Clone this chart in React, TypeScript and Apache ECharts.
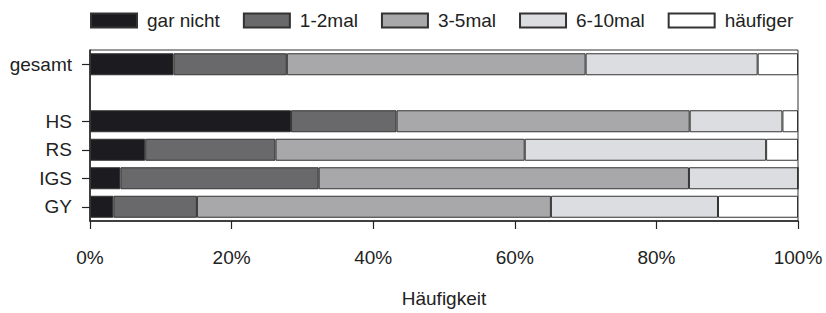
import React, { useEffect, useRef } from "react";
import * as echarts from "echarts";

const categories = ["gesamt", "", "HS", "RS", "IGS", "GY"];
const seriesNames = ["gar nicht", "1-2mal", "3-5mal", "6-10mal", "häufiger"];
const garNicht = [11.8, null, 28.4, 7.8, 4.3, 3.3];
const einZweimal = [16.0, null, 14.9, 18.4, 28.0, 11.8];
const dreiFuenfmal = [42.2, null, 41.4, 35.2, 52.3, 50.0];
const sechsZehnmal = [24.3, null, 13.1, 34.1, 15.4, 23.6];
const haeufiger = [5.7, null, 2.2, 4.5, 0, 11.3];
const xTicks = [0, 20, 40, 60, 80, 100];

const colors = ["#1c1b20", "#69696b", "#a8a8aa", "#dcdde0", "#ffffff"];
const font = "'Liberation Sans', Arial, sans-serif";

export default function App() {
  const ref = useRef<HTMLDivElement>(null);
  useEffect(() => {
    document.body.style.margin = "0";
    if (!ref.current) return;
    const chart = echarts.init(ref.current, undefined, { renderer: "svg" });
    const allData = [garNicht, einZweimal, dreiFuenfmal, sechsZehnmal, haeufiger];
    chart.setOption({
      animation: false,
      textStyle: { fontFamily: font },
      legend: {
        left: 85,
        top: 6,
        itemWidth: 46,
        itemHeight: 14,
        itemGap: 23,
        icon: "rect",
        data: seriesNames,
        textStyle: { fontSize: 19, color: "#222", fontFamily: font, padding: [0, 0, 0, 5] },
      },
      grid: {
        left: 90,
        right: 28,
        top: 50,
        bottom: 81,
        show: true,
        borderColor: "#333",
        borderWidth: 1,
        backgroundColor: "transparent",
      },
      xAxis: {
        type: "value",
        min: xTicks[0],
        max: xTicks[xTicks.length - 1],
        interval: 20,
        name: "Häufigkeit",
        nameLocation: "middle",
        nameGap: 68,
        nameTextStyle: { fontSize: 19, color: "#222", fontFamily: font },
        axisLine: { show: true, lineStyle: { color: "#222", width: 1.5 } },
        axisTick: { show: true, length: 8, lineStyle: { color: "#222", width: 1.2 } },
        axisLabel: { formatter: "{value}%", fontSize: 19, color: "#222", margin: 27, fontFamily: font },
        splitLine: { show: false },
      },
      yAxis: {
        type: "category",
        data: categories,
        inverse: true,
        axisLine: { show: true, lineStyle: { color: "#222", width: 1.5 } },
        axisTick: {
          show: true,
          alignWithLabel: true,
          length: 8,
          interval: (_i: number, v: string) => v !== "",
          lineStyle: { color: "#222", width: 1.2 },
        },
        axisLabel: { fontSize: 19, color: "#222", margin: 18, fontFamily: font },
      },
      series: seriesNames.map((name, i) => ({
        name,
        type: "bar",
        stack: "total",
        barWidth: 22,
        data: allData[i],
        itemStyle: { color: colors[i], borderColor: "#333", borderWidth: 1 },
      })),
    });
    return () => chart.dispose();
  }, []);
  return <div ref={ref} style={{ width: 826, height: 313 }} />;
}
